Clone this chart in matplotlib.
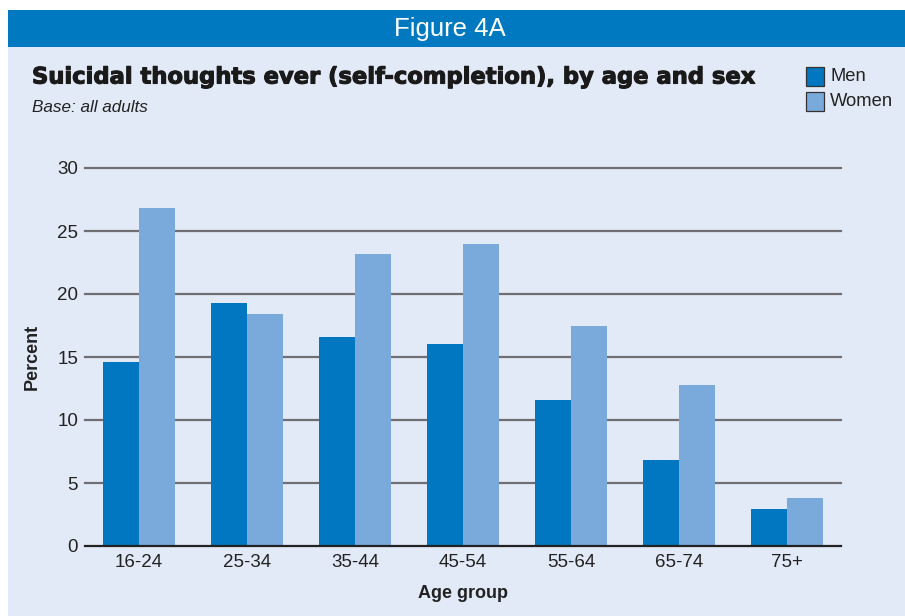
import matplotlib
matplotlib.use("Agg")
import matplotlib.pyplot as plt
from matplotlib.patches import Rectangle
import matplotlib.patheffects as pe
import numpy as np

categories = ["16-24", "25-34", "35-44", "45-54", "55-64", "65-74", "75+"]
men = [14.6, 19.3, 16.6, 16.0, 11.6, 6.8, 2.9]
women = [26.8, 18.4, 23.2, 24.0, 17.5, 12.8, 3.8]
yticks = [0, 5, 10, 15, 20, 25, 30]

MEN_C = "#0077c0"
WOMEN_C = "#7aaadb"
BG = "#e3eaf7"
HEAD = "#0079c1"

W, H = 905, 616
fig = plt.figure(figsize=(W / 100, H / 100), dpi=100)
fig.patch.set_facecolor("white")

def fx(px):
    return px / W

def fy(py):
    return 1 - py / H

# background panel and header
fig.patches.append(Rectangle((fx(8), 0), fx(W - 8), fy(47), transform=fig.transFigure,
                             facecolor=BG, edgecolor="none", zorder=-5))
fig.patches.append(Rectangle((fx(8), fy(47)), fx(W - 8), (47 - 10) / H, transform=fig.transFigure,
                             facecolor=HEAD, edgecolor="none", zorder=-5))
fig.text(fx(450), fy(29), "Figure 4A", color="white", fontsize=18.5, ha="center", va="center",
         family="Liberation Sans")
fig.text(fx(32), fy(77), "Suicidal thoughts ever (self-completion), by age and sex",
         fontsize=16.3, fontweight="bold", ha="left", va="center", color="#1a1a1a",
         family="DejaVu Sans",
         path_effects=[pe.withStroke(linewidth=0.8, foreground="#1a1a1a")])
fig.text(fx(32), fy(107), "Base: all adults", fontsize=12.3, style="italic", ha="left",
         va="center", color="#222222", family="Liberation Sans")

# legend
for i, (lab, col) in enumerate([("Men", MEN_C), ("Women", WOMEN_C)]):
    y0 = 67 + i * 25
    fig.patches.append(Rectangle((fx(806), fy(y0 + 19)), fx(18), 19 / H, transform=fig.transFigure,
                                 facecolor=col, edgecolor="#333333", linewidth=0.9, zorder=2))
    fig.text(fx(830), fy(y0 + 9.5), lab, fontsize=13.2, ha="left", va="center",
             color="#222222", family="Liberation Sans")

# axes
ax = fig.add_axes([fx(85), fy(546), fx(841 - 85), (546 - 168) / H])
ax.set_zorder(1)
ax.set_facecolor("none")
x = np.arange(len(categories))
bw = 1 / 3
ax.bar(x - bw / 2, men, width=bw, color=MEN_C, zorder=3)
ax.bar(x + bw / 2, women, width=bw, color=WOMEN_C, zorder=3)
ax.set_xlim(-0.5, len(categories) - 0.5)
ax.set_ylim(0, 30)
ax.set_yticks(yticks)
ax.set_yticklabels([str(t) for t in yticks], family="Liberation Sans", fontsize=13.5, color="#222222")
ax.set_xticks(x)
ax.set_xticklabels(categories, family="Liberation Sans", fontsize=13.5, color="#222222")
ax.tick_params(length=0, axis="y", pad=5)
ax.tick_params(length=0, axis="x", pad=6)
for s in ax.spines.values():
    s.set_visible(False)
for t in yticks[1:]:
    ax.axhline(t, color="#6e6e73", linewidth=1.6, zorder=1, clip_on=False)
ax.axhline(0, color="#222222", linewidth=1.6, zorder=4, clip_on=False)
ax.set_xlabel("Age group", fontsize=13, fontweight="bold", family="Liberation Sans",
              color="#222222", labelpad=10)
ax.set_ylabel("Percent", fontsize=13, fontweight="bold", family="Liberation Sans",
              color="#222222")
ax.yaxis.set_label_coords(-(85 - 41) / 756, 0.5)

fig.savefig("out.png", dpi=100)
